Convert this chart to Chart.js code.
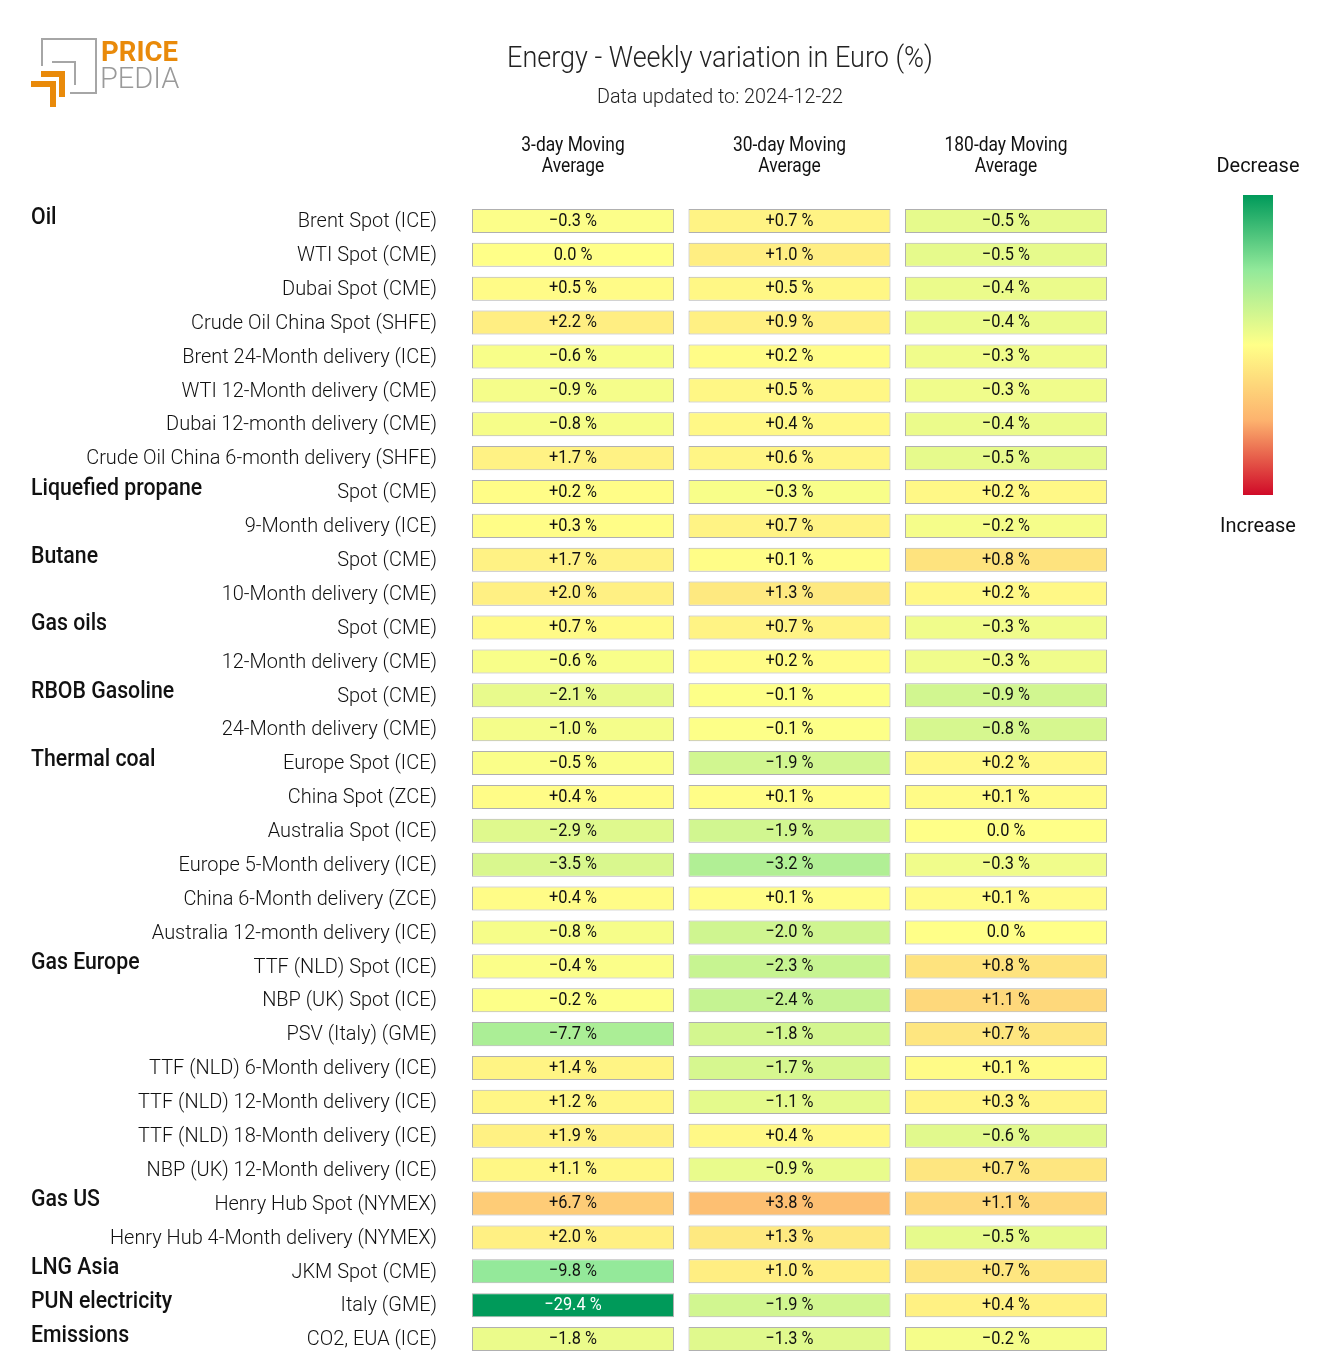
<!DOCTYPE html>
<html><head><meta charset="utf-8">
<script src="https://cdn.jsdelivr.net/npm/chart.js@4.4.1/dist/chart.umd.min.js"></script>
<style>html,body{margin:0;padding:0;background:#fff;} #wrap{width:1320px;height:1357px;position:relative;}</style>
</head><body><div id="wrap"><canvas id="c" width="1320" height="1357"></canvas></div>
<script>
const title = "Energy - Weekly variation in Euro (%)";
const subtitle = "Data updated to: 2024-12-22";
const columnHeaders = [["3-day Moving","Average"],["30-day Moving","Average"],["180-day Moving","Average"]];
const rowLabels = [
  "Brent Spot (ICE)","WTI Spot (CME)","Dubai Spot (CME)","Crude Oil China Spot (SHFE)",
  "Brent 24-Month delivery (ICE)","WTI 12-Month delivery (CME)","Dubai 12-month delivery (CME)","Crude Oil China 6-month delivery (SHFE)",
  "Spot (CME)","9-Month delivery (ICE)",
  "Spot (CME)","10-Month delivery (CME)",
  "Spot (CME)","12-Month delivery (CME)",
  "Spot (CME)","24-Month delivery (CME)",
  "Europe Spot (ICE)","China Spot (ZCE)","Australia Spot (ICE)","Europe 5-Month delivery (ICE)","China 6-Month delivery (ZCE)","Australia 12-month delivery (ICE)",
  "TTF (NLD) Spot (ICE)","NBP (UK) Spot (ICE)","PSV (Italy) (GME)","TTF (NLD) 6-Month delivery (ICE)","TTF (NLD) 12-Month delivery (ICE)","TTF (NLD) 18-Month delivery (ICE)","NBP (UK) 12-Month delivery (ICE)",
  "Henry Hub Spot (NYMEX)","Henry Hub 4-Month delivery (NYMEX)",
  "JKM Spot (CME)","Italy (GME)","CO2, EUA (ICE)"
];
const rowGroups = [
  "Oil","","","","","","","",
  "Liquefied propane","",
  "Butane","",
  "Gas oils","",
  "RBOB Gasoline","",
  "Thermal coal","","","","","",
  "Gas Europe","","","","","","",
  "Gas US","",
  "LNG Asia","PUN electricity","Emissions"
];
const ma3 = [-0.3,0.0,0.5,2.2,-0.6,-0.9,-0.8,1.7, 0.2,0.3, 1.7,2.0, 0.7,-0.6, -2.1,-1.0,
  -0.5,0.4,-2.9,-3.5,0.4,-0.8, -0.4,-0.2,-7.7,1.4,1.2,1.9,1.1, 6.7,2.0, -9.8,-29.4,-1.8];
const ma30 = [0.7,1.0,0.5,0.9,0.2,0.5,0.4,0.6, -0.3,0.7, 0.1,1.3, 0.7,0.2, -0.1,-0.1,
  -1.9,0.1,-1.9,-3.2,0.1,-2.0, -2.3,-2.4,-1.8,-1.7,-1.1,0.4,-0.9, 3.8,1.3, 1.0,-1.9,-1.3];
const ma180 = [-0.5,-0.5,-0.4,-0.4,-0.3,-0.3,-0.4,-0.5, 0.2,-0.2, 0.8,0.2, -0.3,-0.3, -0.9,-0.8,
  0.2,0.1,0.0,-0.3,0.1,0.0, 0.8,1.1,0.7,0.1,0.3,-0.6,0.7, 1.1,-0.5, 0.7,0.4,-0.2];
const colorRanges = [20, 9, 4.3];
const colorStops = [[-1,'#009a5a'],[-0.5,'#92e99a'],[0,'#ffff88'],[0.5,'#fdb36e'],[1,'#d00a28']];

function hex2rgb(h){return [parseInt(h.slice(1,3),16),parseInt(h.slice(3,5),16),parseInt(h.slice(5,7),16)];}
function colorAt(t){
  t = Math.max(-1, Math.min(1, t));
  for (let i=0;i<colorStops.length-1;i++){
    const [a,ca]=colorStops[i],[b,cb]=colorStops[i+1];
    if (t>=a && t<=b){
      const f=(t-a)/(b-a), A=hex2rgb(ca), B=hex2rgb(cb);
      return A.map((v,k)=>Math.round(v+(B[k]-v)*f));
    }
  }
  return hex2rgb(colorStops[colorStops.length-1][1]);
}
function rgbStr(c){return `rgb(${c[0]},${c[1]},${c[2]})`;}
function fmt(v){ if (v===0) return "0.0 %"; return (v>0?"+":"\u2212")+Math.abs(v).toFixed(1)+" %"; }

const columns = [ma3, ma30, ma180];
const HALF = 0.4665;

function txt(ctx, s, x, y, size, weight, color, align, sx) {
  ctx.save();
  ctx.font = `${weight} ${size}px Roboto`;
  ctx.fillStyle = color;
  ctx.textBaseline = 'middle';
  ctx.textAlign = align;
  ctx.translate(x, y);
  ctx.scale(sx, 1);
  ctx.fillText(s, 0, 0);
  ctx.restore();
}

const decor = {
  id: 'decor',
  afterDraw(chart) {
    const ctx = chart.ctx, xs = chart.scales.x, ys = chart.scales.y;
    // logo
    ctx.save();
    ctx.strokeStyle = '#a6a6a6'; ctx.lineWidth = 2;
    ctx.beginPath();
    ctx.moveTo(42, 66); ctx.lineTo(42, 39); ctx.lineTo(96, 39); ctx.lineTo(96, 93); ctx.lineTo(70, 93);
    ctx.moveTo(52, 62); ctx.lineTo(75, 62); ctx.lineTo(75, 85);
    ctx.stroke();
    ctx.fillStyle = '#e98a0a';
    ctx.fillRect(41, 71, 24, 6); ctx.fillRect(59, 71, 6, 26);
    ctx.fillRect(31, 81, 25, 6); ctx.fillRect(50, 81, 6, 26);
    ctx.restore();
    txt(ctx, "PRICE", 101, 54, 27, 700, '#e98a0a', 'left', 1.02);
    txt(ctx, "PEDIA", 100, 81, 29, 300, '#9a9a9a', 'left', 1.0);
    // titles
    txt(ctx, title, 720, 59, 30, 300, '#222', 'center', 0.9);
    txt(ctx, subtitle, 720, 98, 21, 300, '#222', 'center', 0.94);
    // column headers
    columnHeaders.forEach((h, j) => {
      const x = xs.getPixelForValue(j);
      txt(ctx, h[0], x, 146, 20, 400, '#111', 'center', 0.87);
      txt(ctx, h[1], x, 167, 20, 400, '#111', 'center', 0.87);
    });
    // row labels and groups
    rowLabels.forEach((l, i) => {
      const y = ys.getPixelForValue(i);
      txt(ctx, l, 437, y + 1, 21, 300, '#111', 'right', 0.95);
      if (rowGroups[i]) txt(ctx, rowGroups[i], 31, y - 3, 23, 500, '#111', 'left', 0.925);
    });
    // cell values
    chart.data.datasets.forEach((ds, j) => {
      const meta = chart.getDatasetMeta(j);
      meta.data.forEach((el, i) => {
        const v = ds.values[i];
        const c = colorAt(v / colorRanges[j]);
        const lum = 0.299*c[0]+0.587*c[1]+0.114*c[2];
        txt(ctx, fmt(v), (el.x + el.base) / 2, el.y, 19, 400, lum < 140 ? '#fff' : '#111', 'center', 0.86);
      });
    });
    // colorbar
    const top = 195, bot = 495, left = 1243, w = 30;
    const g = ctx.createLinearGradient(0, top, 0, bot);
    colorStops.forEach(([t, c]) => g.addColorStop((t + 1) / 2, c));
    ctx.fillStyle = g;
    ctx.fillRect(left, top, w, bot - top);
    txt(ctx, "Decrease", left + w / 2, 167, 21, 400, '#111', 'center', 0.95);
    txt(ctx, "Increase", left + w / 2, 527, 21, 400, '#111', 'center', 0.95);
  }
};

new Chart(document.getElementById('c'), {
  type: 'bar',
  data: {
    labels: rowLabels,
    datasets: columns.map((vals, j) => ({
      label: columnHeaders[j].join(' '),
      data: vals.map(() => [j - HALF, j + HALF]),
      values: vals,
      backgroundColor: vals.map(v => rgbStr(colorAt(v / colorRanges[j]))),
      borderColor: 'rgba(150,150,150,0.75)',
      borderWidth: 1,
      borderSkipped: false,
      grouped: false,
      barPercentage: 0.71,
      categoryPercentage: 1
    }))
  },
  options: {
    responsive: false,
    devicePixelRatio: 1,
    animation: false,
    indexAxis: 'y',
    layout: { padding: { left: 464.75, right: 205.75, top: 204, bottom: 1 } },
    scales: {
      x: { type: 'linear', min: -0.5, max: 2.5, display: false },
      y: { type: 'category', display: false, offset: true }
    },
    plugins: { legend: { display: false }, tooltip: { enabled: false } }
  },
  plugins: [decor]
});
</script></body></html>
